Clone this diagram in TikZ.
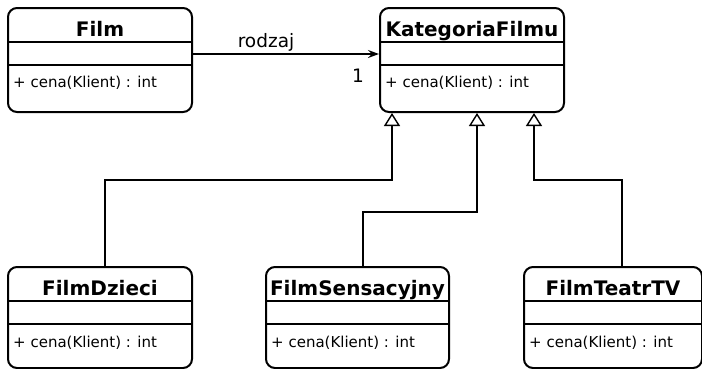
\documentclass[tikz,border=0pt]{standalone}
\usepackage{fontspec}
\setmainfont{DejaVu Sans}
\usetikzlibrary{arrows.meta}
\begin{document}
\begin{tikzpicture}[x=1pt,y=-1pt,
  cls/.style={draw, line width=2pt, rounded corners=9pt, inner sep=0pt, anchor=north west, minimum height=103pt},
  sepline/.style={line width=1.6pt},
  ttl/.style={font=\fontsize{20}{24}\selectfont\bfseries, anchor=base, inner sep=0pt},
  meth/.style={font=\fontsize{15}{18}\selectfont, anchor=base west, inner sep=0pt},
  lbl/.style={font=\fontsize{18.5}{22}\selectfont, anchor=base, inner sep=0pt},
  gen/.style={-{Triangle[open, length=13pt, width=16pt, line width=1.4pt]}, line width=1.5pt},
  assoc/.style={-{Stealth[length=11pt, width=8pt, inset=4pt]}, line width=1.3pt}]
\useasboundingbox (0,0) rectangle (702,368);

% class boxes
\node[cls, minimum width=184pt, minimum height=104pt] (film) at (7,7) {};
\node[cls, minimum width=184pt, minimum height=104pt] (kat) at (379,7) {};
\node[cls, minimum width=184pt, minimum height=101pt] (fd) at (7,266) {};
\node[cls, minimum width=183pt, minimum height=101pt] (fs) at (265,266) {};
\node[cls, minimum width=178pt, minimum height=101pt] (ft) at (523,266) {};

% compartments
\foreach \b in {film,kat,fd,fs,ft}{
  \draw[sepline] ([yshift=-35pt]\b.north west) -- ([yshift=-35pt]\b.north east);
  \draw[sepline] ([yshift=-58pt]\b.north west) -- ([yshift=-58pt]\b.north east);
}

% titles
\node[ttl] (filmT) at ([yshift=-29pt]film.north) {Film};
\node[ttl] (katT) at ([yshift=-29pt]kat.north) {KategoriaFilmu};
\node[ttl] (fdT) at ([yshift=-29pt]fd.north) {FilmDzieci};
\node[ttl] (fsT) at ([yshift=-29pt]fs.north) {FilmSensacyjny};
\node[ttl] (ftT) at ([yshift=-29pt]ft.north) {FilmTeatrTV};

% methods
\node[meth] (filmM) at ([xshift=6pt,yshift=-80pt]film.north west) {+ cena(Klient) : int};
\node[meth] (katM) at ([xshift=6pt,yshift=-80pt]kat.north west) {+ cena(Klient) : int};
\node[meth] (fdM) at ([xshift=6pt,yshift=-81pt]fd.north west) {+ cena(Klient) : int};
\node[meth] (fsM) at ([xshift=6pt,yshift=-81pt]fs.north west) {+ cena(Klient) : int};
\node[meth] (ftM) at ([xshift=6pt,yshift=-81pt]ft.north west) {+ cena(Klient) : int};

% association
\draw[assoc] ([yshift=6pt]film.east) -- ([yshift=6pt]kat.west);
\node[lbl] (rodzaj) at (266,47) {rodzaj};
\node[lbl] (mult) at (358,82) {1};

% generalizations
\draw[gen] ([xshift=5pt]fd.north) -- ++(0,-86) -| ([xshift=13pt]kat.south west);
\draw[gen] ([xshift=5.5pt]fs.north) -- ++(0,-54) -| ([xshift=98pt]kat.south west);
\draw[gen] ([xshift=9pt]ft.north) -- ++(0,-86) -| ([xshift=155pt]kat.south west);
\end{tikzpicture}
\end{document}
